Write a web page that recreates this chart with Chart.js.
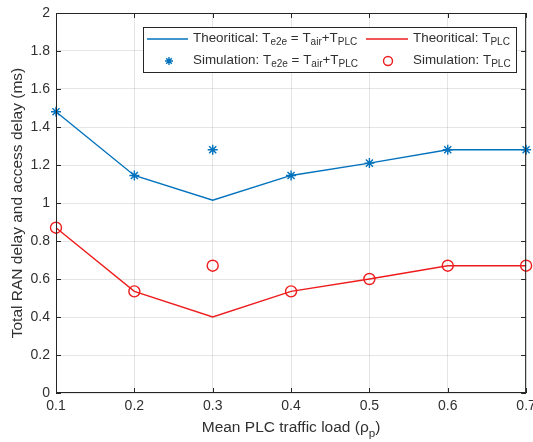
<!DOCTYPE html>
<html>
<head>
<meta charset="utf-8">
<script src="https://cdn.jsdelivr.net/npm/chart.js@4"></script>
<style>
  html, body { margin: 0; padding: 0; background: #fff; }
  #wrap { width: 533px; height: 442px; }
</style>
</head>
<body>
<div id="wrap"><canvas id="delay-chart"></canvas></div>
<script>
const loads = [0.1, 0.2, 0.3, 0.4, 0.5, 0.6, 0.7];
const theoE2e = [1.48, 1.145, 1.015, 1.145, 1.21, 1.28, 1.28];
const simE2e = [1.48, 1.145, 1.28, 1.145, 1.21, 1.28, 1.28];
const theoPlc = [0.87, 0.535, 0.40, 0.535, 0.60, 0.67, 0.67];
const simPlc = [0.87, 0.535, 0.67, 0.535, 0.60, 0.67, 0.67];

const BLUE = '#0072BD';
const RED = '#EE1C1C';
const FONT = '"Liberation Sans", Arial, sans-serif';
const TEXT = '#303030';

function pts(ys) {
    return loads.map((x, i) => ({ x: x, y: ys[i] }));
}

// draw text with subscripts: parts = [[text, isSub], ...]
function drawRich(ctx, parts, x, y, size) {
    let cx = x;
    parts.forEach(([t, sub]) => {
        ctx.font = (sub ? size * 0.75 : size) + 'px ' + FONT;
        ctx.fillText(t, cx, sub ? y + size * 0.35 : y);
        cx += ctx.measureText(t).width;
    });
    return cx;
}

function richWidth(ctx, parts, size) {
    let w = 0;
    parts.forEach(([t, sub]) => {
        ctx.font = (sub ? size * 0.75 : size) + 'px ' + FONT;
        w += ctx.measureText(t).width;
    });
    return w;
}

const matlabLook = {
    id: 'matlabLook',
    afterDraw(chart) {
        const ctx = chart.ctx;
        const a = chart.chartArea;
        const xs = chart.scales.x, ys = chart.scales.y;
        ctx.save();

        // axes box + inward ticks
        ctx.strokeStyle = '#262626';
        ctx.lineWidth = 1;
        ctx.strokeRect(a.left + 0.5, a.top + 0.5, a.right - a.left - 1, a.bottom - a.top - 1);
        ctx.beginPath();
        xs.ticks.forEach(t => {
            const px = Math.round(xs.getPixelForValue(t.value)) + 0.5;
            ctx.moveTo(px, a.bottom); ctx.lineTo(px, a.bottom - 5);
            ctx.moveTo(px, a.top); ctx.lineTo(px, a.top + 5);
        });
        ys.ticks.forEach(t => {
            const py = Math.round(ys.getPixelForValue(t.value)) + 0.5;
            ctx.moveTo(a.left, py); ctx.lineTo(a.left + 5, py);
            ctx.moveTo(a.right, py); ctx.lineTo(a.right - 5, py);
        });
        ctx.stroke();

        // x axis title with subscript
        ctx.fillStyle = TEXT;
        ctx.textBaseline = 'middle';
        const xParts = [['Mean PLC traffic load (', false], ['\u03C1', false], ['p', true], [')', false]];
        const w = richWidth(ctx, xParts, 15.5);
        drawRich(ctx, xParts, (a.left + a.right) / 2 - w / 2, 428, 15.5);

        // legend
        const lx = 143, ly = 27, lw = 373, lh = 45;
        ctx.fillStyle = '#fff';
        ctx.fillRect(lx, ly, lw, lh);
        ctx.strokeStyle = '#262626';
        ctx.lineWidth = 1;
        ctx.strokeRect(lx + 0.5, ly + 0.5, lw, lh);

        const r1 = 39, r2 = 61, fs = 13.4;
        ctx.lineWidth = 1.4;
        ctx.strokeStyle = BLUE;
        ctx.beginPath(); ctx.moveTo(147, r1); ctx.lineTo(188, r1); ctx.stroke();
        ctx.strokeStyle = RED;
        ctx.beginPath(); ctx.moveTo(366, r1); ctx.lineTo(408, r1); ctx.stroke();

        // asterisk marker
        ctx.strokeStyle = BLUE;
        ctx.lineWidth = 1.4;
        ctx.beginPath();
        const sr = 4;
        for (let k = 0; k < 4; k++) {
            const ang = k * Math.PI / 4;
            ctx.moveTo(169 - sr * Math.cos(ang), r2 - sr * Math.sin(ang));
            ctx.lineTo(169 + sr * Math.cos(ang), r2 + sr * Math.sin(ang));
        }
        ctx.stroke();
        // circle marker
        ctx.strokeStyle = RED;
        ctx.beginPath(); ctx.arc(388, r2, 4.5, 0, Math.PI * 2); ctx.stroke();

        ctx.fillStyle = TEXT;
        const e2eParts = [['T', false], ['e2e', true], [' = T', false], ['air', true], ['+T', false], ['PLC', true]];
        drawRich(ctx, [['Theoritical: ', false]].concat(e2eParts), 193, r1 - 1, fs);
        drawRich(ctx, [['Theoritical: T', false], ['PLC', true]], 413, r1 - 1, fs);
        drawRich(ctx, [['Simulation: ', false]].concat(e2eParts), 193, r2 - 1, fs);
        drawRich(ctx, [['Simulation: T', false], ['PLC', true]], 413, r2 - 1, fs);

        ctx.restore();
    }
};

new Chart(document.getElementById('delay-chart'), {
    type: 'scatter',
    data: {
        datasets: [
            {
                label: 'Theoritical e2e',
                data: pts(theoE2e),
                showLine: true,
                borderColor: BLUE,
                borderWidth: 1.4,
                pointRadius: 0,
                clip: false
            },
            {
                label: 'Theoritical PLC',
                data: pts(theoPlc),
                showLine: true,
                borderColor: RED,
                borderWidth: 1.4,
                pointRadius: 0,
                clip: false
            },
            {
                label: 'Simulation e2e',
                data: pts(simE2e),
                showLine: false,
                pointStyle: 'star',
                pointRadius: 5,
                borderColor: BLUE,
                backgroundColor: BLUE,
                pointBorderWidth: 1.4,
                clip: false
            },
            {
                label: 'Simulation PLC',
                data: pts(simPlc),
                showLine: false,
                pointStyle: 'circle',
                pointRadius: 5.5,
                borderColor: RED,
                backgroundColor: 'rgba(0,0,0,0)',
                pointBorderWidth: 1.4,
                clip: false
            }
        ]
    },
    options: {
        responsive: true,
        maintainAspectRatio: false,
        animation: false,
        layout: { padding: { top: 13, right: 4, left: 0, bottom: 0 } },
        plugins: {
            legend: { display: false },
            tooltip: { enabled: false }
        },
        scales: {
            x: {
                type: 'linear',
                min: 0.1,
                max: 0.7,
                ticks: {
                    stepSize: 0.1,
                    color: TEXT,
                    font: { family: FONT, size: 14 },
                    padding: 5,
                    maxRotation: 0,
                    callback: v => String(Math.round(v * 10) / 10)
                },
                grid: { color: 'rgba(0,0,0,0.1)', tickLength: 0 },
                border: { display: false },
                afterFit: s => { s.height = 49; s.paddingRight = 0; s.paddingLeft = 0; }
            },
            y: {
                min: 0,
                max: 2,
                ticks: {
                    stepSize: 0.2,
                    color: TEXT,
                    font: { family: FONT, size: 14 },
                    padding: 6,
                    callback: v => String(Math.round(v * 10) / 10)
                },
                grid: { color: 'rgba(0,0,0,0.1)', tickLength: 0 },
                border: { display: false },
                title: {
                    display: true,
                    text: 'Total RAN delay and access delay (ms)',
                    color: TEXT,
                    font: { family: FONT, size: 15.5 },
                    padding: { top: 8, bottom: 0 }
                },
                afterFit: s => { s.width = 56; s.paddingTop = 0; s.paddingBottom = 0; }
            }
        }
    },
    plugins: [matlabLook]
});
</script>
</body>
</html>
